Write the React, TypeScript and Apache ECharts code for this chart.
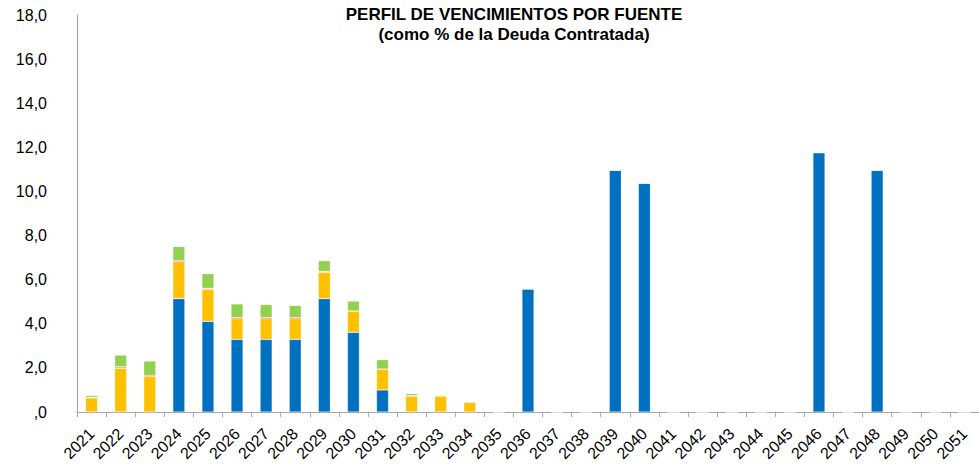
import React, { useEffect, useRef } from "react";
import * as echarts from "echarts";

const years: string[] = [];
for (let y = 2021; y <= 2051; y++) years.push(String(y));

// Values (% of contracted debt)
const blueValues = [0, 0, 0, 5.14, 4.11, 3.29, 3.29, 3.29, 5.14, 3.61, 1.0, 0, 0, 0, 0, 5.58, 0, 0, 10.96, 10.37, 0, 0, 0, 0, 0, 11.76, 0, 10.96, 0, 0, 0];
const yellowValues = [0.64, 1.98, 1.61, 1.68, 1.45, 0.94, 0.94, 0.94, 1.19, 0.97, 0.95, 0.72, 0.72, 0.43, 0, 0, 0, 0, 0, 0, 0, 0, 0, 0, 0, 0, 0, 0, 0, 0, 0];
const orangeValues = [0.02, 0.07, 0, 0, 0.05, 0, 0, 0, 0.05, 0, 0, 0.02, 0.03, 0.04, 0, 0, 0, 0, 0, 0, 0, 0, 0, 0, 0, 0, 0, 0, 0, 0, 0];
const redValues = [0, 0, 0.05, 0.05, 0, 0.05, 0.05, 0.05, 0, 0, 0, 0, 0, 0, 0, 0, 0, 0, 0, 0, 0, 0, 0, 0, 0, 0, 0, 0, 0, 0, 0];
const greenValues = [0.09, 0.53, 0.65, 0.63, 0.66, 0.62, 0.59, 0.55, 0.48, 0.45, 0.42, 0.09, 0, 0, 0, 0, 0, 0, 0, 0, 0, 0, 0, 0, 0, 0, 0, 0, 0, 0, 0];

const titleText = "PERFIL DE VENCIMIENTOS POR FUENTE\n(como % de la Deuda Contratada)";

const FONT = "Liberation Sans, Arial, sans-serif";

function fmt(v: number): string {
  if (v === 0) return ",0";
  return v.toFixed(1).replace(".", ",");
}

export default function App() {
  const ref = useRef<HTMLDivElement>(null);
  useEffect(() => {
    if (!ref.current) return;
    const chart = echarts.init(ref.current, undefined, { renderer: "svg" });
    const mk = (name: string, data: number[], color: string) => ({
      name,
      type: "bar",
      stack: "total",
      data,
      barWidth: 12,
      itemStyle: { color, borderColor: "rgba(255,255,255,0.35)", borderWidth: 0.6 },
    });
    chart.setOption({
      animation: false,
      title: {
        text: titleText,
        left: 509,
        top: -1,
        textAlign: "center",
        textStyle: { fontFamily: FONT, fontSize: 17, fontWeight: "bold", color: "#000", lineHeight: 20 },
      },
      grid: { left: 77, top: 15, bottom: 52, width: 916 },
      xAxis: {
        type: "category",
        data: years,
        boundaryGap: true,
        axisLine: { lineStyle: { color: "#a6a6a6", width: 1.2 } },
        axisTick: { show: true, length: 5, lineStyle: { color: "#a6a6a6" } },
        axisLabel: { rotate: 45, interval: 0, margin: 19, fontFamily: FONT, fontSize: 16, color: "#000" },
      },
      yAxis: {
        type: "value",
        min: 0,
        max: 18,
        interval: 2,
        splitLine: { show: false },
        axisLine: { show: true, lineStyle: { color: "#a6a6a6", width: 1.2 } },
        axisTick: { show: false },
        axisLabel: { margin: 30, fontFamily: FONT, fontSize: 16, color: "#000", formatter: (v: number) => fmt(v) },
      },
      series: [
        mk("Fuente 1", blueValues, "#0070C0"),
        mk("Fuente 2", yellowValues, "#FFC000"),
        mk("Fuente 3", orangeValues, "#F79646"),
        mk("Fuente 4", redValues, "#FF0000"),
        mk("Fuente 5", greenValues, "#92D050"),
      ],
    });
    return () => chart.dispose();
  }, []);
  return (
    <div
      ref={ref}
      style={{ position: "fixed", left: 0, top: 0, width: 979, height: 464, background: "#fff" }}
    />
  );
}
